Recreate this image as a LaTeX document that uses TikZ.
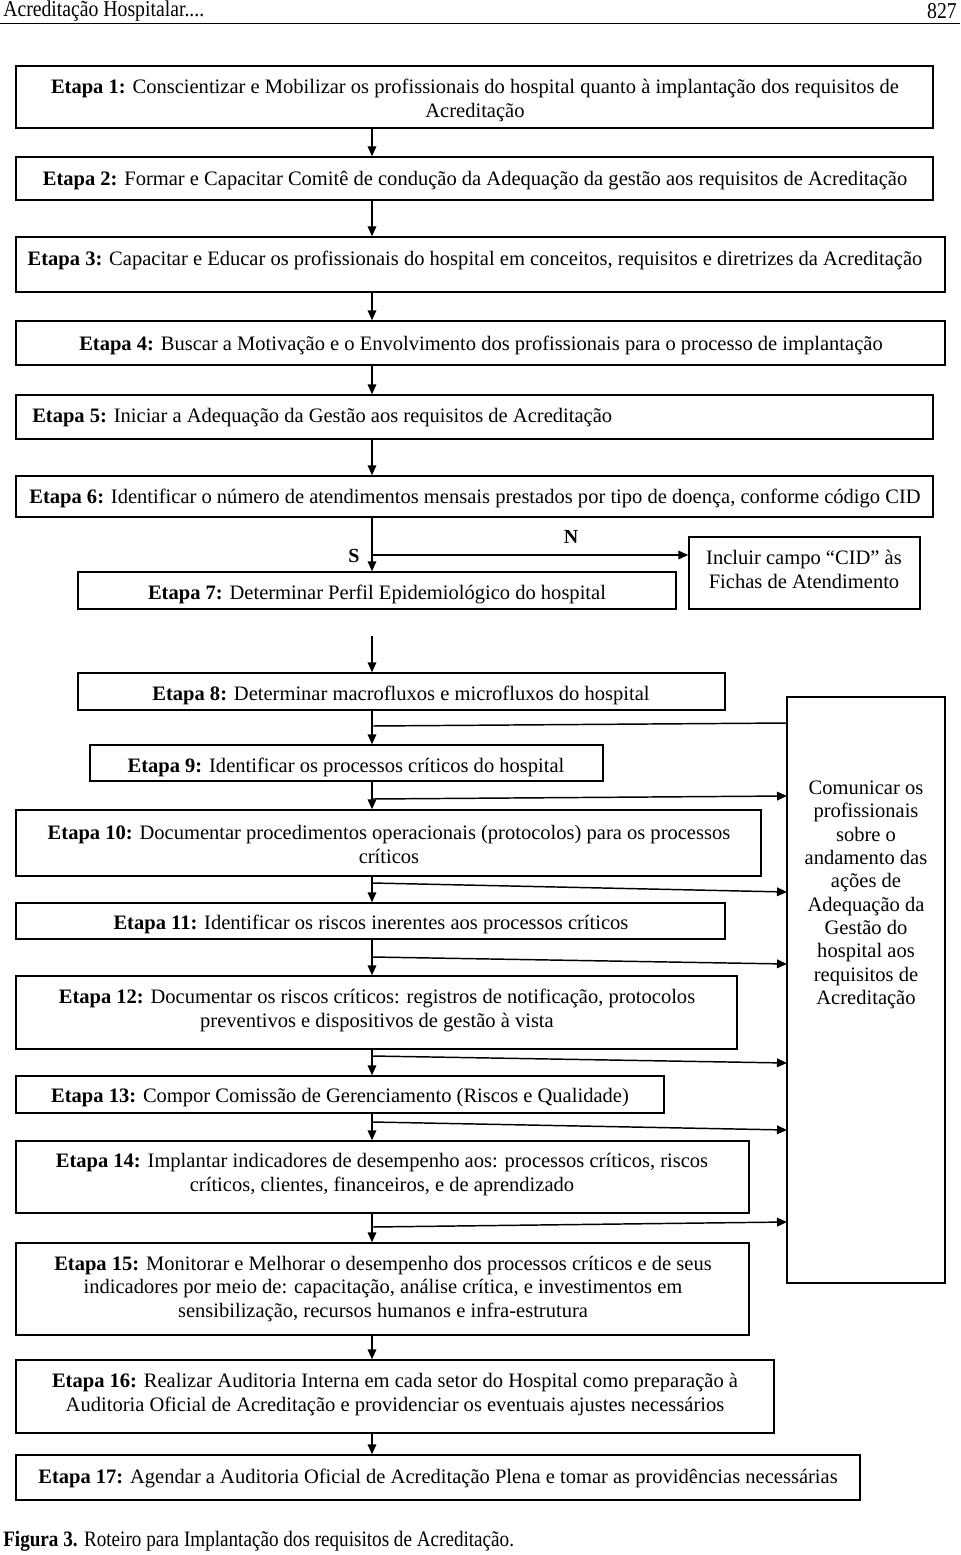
\documentclass[tikz,border=0pt]{standalone}
\usepackage{fontspec}
\setmainfont{Liberation Serif}
\newfontfamily\condfont[FakeStretch=0.87]{Liberation Serif}
\usetikzlibrary{arrows.meta,fit}
\begin{document}
\begin{tikzpicture}[x=0.75pt,y=-0.75pt,
  box/.style={draw,line width=1.1pt,inner sep=0pt},
  txt/.style={inner sep=0pt,font=\fontsize{15.4}{17.4}\selectfont,align=center,yshift=-1.5pt},
  arr/.style={line width=1.1pt,-{Triangle[length=7.5pt,width=6.5pt]}},
  ln/.style={line width=1.1pt},
  lbl/.style={inner sep=0pt,font=\fontsize{15}{16}\selectfont\bfseries}]
\useasboundingbox (0,0) rectangle (960,1555);
% header
\node[anchor=west,inner sep=0pt,font=\condfont\fontsize{17}{18}\selectfont] (hd) at (3,11) {Acreditação Hospitalar....};
\node[anchor=east,inner sep=0pt,font=\condfont\fontsize{17}{18}\selectfont] (pg) at (957,11) {827};
\draw[line width=0.8pt] (0,23.5) -- (960,23.5);
\coordinate (m) at (372,0);
% boxes
\node[box,fit={(16,66) (933,128)}] (s1) {};
\node[box,fit={(16,157) (933,200)}] (s2) {};
\node[box,fit={(16,237) (945,292)}] (s3) {};
\node[box,fit={(16,321) (945,365)}] (s4) {};
\node[box,fit={(16,395) (933,439)}] (s5) {};
\node[box,fit={(16,476) (933,517)}] (s6) {};
\node[box,fit={(78,572) (676,609)}] (s7) {};
\node[box,fit={(689,537) (920,609)}] (inc) {};
\node[box,fit={(78,673) (725,710)}] (s8) {};
\node[box,fit={(90,745) (603,781)}] (s9) {};
\node[box,fit={(16,810) (761,876)}] (s10) {};
\node[box,fit={(16,903) (725,939)}] (s11) {};
\node[box,fit={(16,976) (737,1049)}] (s12) {};
\node[box,fit={(16,1076) (664,1113)}] (s13) {};
\node[box,fit={(16,1141) (749,1213)}] (s14) {};
\node[box,fit={(16,1243) (749,1335)}] (s15) {};
\node[box,fit={(16,1360) (774,1433)}] (s16) {};
\node[box,fit={(16,1455) (860,1500)}] (s17) {};
\node[box,fit={(787,697) (945,1283)}] (com) {};
% texts
\node[txt] (t1) at (475,98.5) {\textbf{Etapa 1:} Conscientizar e Mobilizar os profissionais do hospital quanto à implantação dos requisitos de\\Acreditação};
\node[txt] (t2) at (475,179) {\textbf{Etapa 2:} Formar e Capacitar Comitê de condução da Adequação da gestão aos requisitos de Acreditação};
\node[txt] (t3) at (475,258) {\textbf{Etapa 3:} Capacitar e Educar os profissionais do hospital em conceitos, requisitos e diretrizes da Acreditação};
\node[txt] (t4) at (481,343) {\textbf{Etapa 4:} Buscar a Motivação e o Envolvimento dos profissionais para o processo de implantação};
\node[txt,anchor=west] (t5) at (32,416) {\textbf{Etapa 5:} Iniciar a Adequação da Gestão aos requisitos de Acreditação};
\node[txt] (t6) at (475,496) {\textbf{Etapa 6:} Identificar o número de atendimentos mensais prestados por tipo de doença, conforme código CID};
\node[txt] (t7) at (377,592) {\textbf{Etapa 7:} Determinar Perfil Epidemiológico do hospital};
\node[txt] (tinc) at (804,567.5) {Incluir campo “CID” às\\Fichas de Atendimento};
\node[txt] (t8) at (401,693) {\textbf{Etapa 8:} Determinar macrofluxos e microfluxos do hospital};
\node[txt] (t9) at (346,765) {\textbf{Etapa 9:} Identificar os processos críticos do hospital};
\node[txt] (t10) at (389,842.5) {\textbf{Etapa 10:} Documentar procedimentos operacionais (protocolos) para os processos\\críticos};
\node[txt] (t11) at (371,922) {\textbf{Etapa 11:} Identificar os riscos inerentes aos processos críticos};
\node[txt] (t12) at (377,1008.5) {\textbf{Etapa 12:} Documentar os riscos críticos: registros de notificação, protocolos\\preventivos e dispositivos de gestão à vista};
\node[txt] (t13) at (340,1096) {\textbf{Etapa 13:} Compor Comissão de Gerenciamento (Riscos e Qualidade)};
\node[txt] (t14) at (382,1172.5) {\textbf{Etapa 14:} Implantar indicadores de desempenho aos: processos críticos, riscos\\críticos, clientes, financeiros, e de aprendizado};
\node[txt] (t15) at (383,1287) {\textbf{Etapa 15:} Monitorar e Melhorar o desempenho dos processos críticos e de seus\\indicadores por meio de: capacitação, análise crítica, e investimentos em\\sensibilização, recursos humanos e infra-estrutura};
\node[txt] (t16) at (395,1392.5) {\textbf{Etapa 16:} Realizar Auditoria Interna em cada setor do Hospital como preparação à\\Auditoria Oficial de Acreditação e providenciar os eventuais ajustes necessários};
\node[txt] (t17) at (438,1476) {\textbf{Etapa 17:} Agendar a Auditoria Oficial de Acreditação Plena e tomar as providências necessárias};
\node[txt,font=\fontsize{15.4}{17.5}\selectfont] (tcom) at (866,893) {Comunicar os\\profissionais\\sobre o\\andamento das\\ações de\\Adequação da\\Gestão do\\hospital aos\\requisitos de\\Acreditação};
% labels
\node[lbl] (S) at (354,556) {S};
\node[lbl] (N) at (571,537) {N};
% caption
\node[anchor=west,inner sep=0pt,font=\condfont\fontsize{16.5}{18}\selectfont] (cap) at (3,1541) {\textbf{Figura 3.} Roteiro para Implantação dos requisitos de Acreditação.};
% main arrows
\draw[arr] (s1.south -| m) -- (s2.north -| m);
\draw[arr] (s2.south -| m) -- (s3.north -| m);
\draw[arr] (s3.south -| m) -- (s4.north -| m);
\draw[arr] (s4.south -| m) -- (s5.north -| m);
\draw[arr] (s5.south -| m) -- (s6.north -| m);
\draw[arr] (s6.south -| m) -- (s7.north -| m);
\coordinate (g7) at (372,636);
\draw[arr] (g7) -- (s8.north -| m);
\draw[arr] (s8.south -| m) -- (s9.north -| m);
\draw[arr] (s9.south -| m) -- (s10.north -| m);
\draw[arr] (s10.south -| m) -- (s11.north -| m);
\draw[arr] (s11.south -| m) -- (s12.north -| m);
\draw[arr] (s12.south -| m) -- (s13.north -| m);
\draw[arr] (s13.south -| m) -- (s14.north -| m);
\draw[arr] (s14.south -| m) -- (s15.north -| m);
\draw[arr] (s15.south -| m) -- (s16.north -| m);
\draw[arr] (s16.south -| m) -- (s17.north -| m);
% branch N
\coordinate (b6) at (372,555);
\draw[arr] (b6) -- (inc.west |- b6);
% lines to com
\coordinate (a1) at (372,726); \coordinate (e1) at (787,723);
\coordinate (a2) at (372,799); \coordinate (e2) at (787,796);
\coordinate (a3) at (372,883); \coordinate (e3) at (787,892);
\coordinate (a4) at (372,957); \coordinate (e4) at (787,964);
\coordinate (a5) at (372,1056); \coordinate (e5) at (787,1063);
\coordinate (a6) at (372,1122); \coordinate (e6) at (787,1130);
\coordinate (a7) at (372,1227); \coordinate (e7) at (787,1222);
\draw[ln] (a1) -- (e1);
\draw[arr] (a2) -- (e2);
\draw[arr] (a3) -- (e3);
\draw[arr] (a4) -- (e4);
\draw[arr] (a5) -- (e5);
\draw[arr] (a6) -- (e6);
\draw[arr] (a7) -- (e7);
\end{tikzpicture}
\end{document}
